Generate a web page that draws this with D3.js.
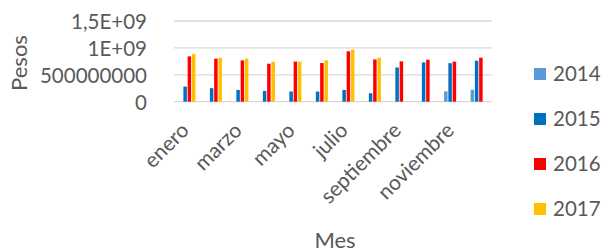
<!DOCTYPE html>
<html>
<head>
<meta charset="utf-8">
<script src="https://cdn.jsdelivr.net/npm/d3@7"></script>
<style>
  body { margin: 0; background: #fff; }
  svg text { font-family: Lato, "Open Sans", sans-serif; fill: #595959; }
</style>
</head>
<body>
<div id="chart"></div>
<script>
// months and series (pesos)
var months = ["enero", "febrero", "marzo", "abril", "mayo", "junio", "julio",
              "agosto", "septiembre", "octubre", "noviembre", "diciembre"];
var years = ["2014", "2015", "2016", "2017"];
var v2014 = [null, null, null, null, null, null, null, null, null, null, 192e6, 222e6];
var v2015 = [281e6, 251e6, 219e6, 200e6, 190e6, 188e6, 219e6, 157e6, 636e6, 731e6, 716e6, 762e6];
var v2016 = [843e6, 800e6, 768e6, 706e6, 745e6, 719e6, 937e6, 786e6, 750e6, 781e6, 745e6, 818e6];
var v2017 = [888e6, 815e6, 800e6, 743e6, 746e6, 768e6, 968e6, 818e6, null, null, null, null];
var yTicks = [0, 5e8, 1e9, 1.5e9];
var yTickLabels = ["0", "500000000", "1E+09", "1,5E+09"];
var colors = ["#5B9BD5", "#0070C0", "#FF0000", "#FFC000"];

var series = [v2014, v2015, v2016, v2017];

var width = 605, height = 252;
var plot = {left: 174, right: 492, top: 21, bottom: 101.7};

var svg = d3.select("#chart").append("svg")
  .attr("width", width)
  .attr("height", height);

svg.append("rect").attr("width", width).attr("height", height).attr("fill", "#fff");

var x0 = d3.scaleBand()
  .domain(months)
  .range([plot.left, plot.right])
  .paddingInner(0.354)
  .paddingOuter(0.177);

var x1 = d3.scaleBand()
  .domain(years)
  .range([0, x0.bandwidth()]);

var y = d3.scaleLinear()
  .domain([0, 1.5e9])
  .range([plot.bottom, plot.top]);

var color = d3.scaleOrdinal().domain(years).range(colors);

// gridlines
svg.append("g")
  .selectAll("line")
  .data(yTicks)
  .enter().append("line")
  .attr("x1", plot.left)
  .attr("x2", plot.right)
  .attr("y1", function(d) { return y(d); })
  .attr("y2", function(d) { return y(d); })
  .attr("stroke", "#d9d9d9")
  .attr("stroke-width", 1.3);

// y axis labels
var yAxis = d3.axisLeft(y)
  .tickValues(yTicks)
  .tickSize(0)
  .tickPadding(0)
  .tickFormat(function(d, i) { return yTickLabels[i]; });

var yg = svg.append("g")
  .attr("transform", "translate(147,0)")
  .call(yAxis);
yg.select(".domain").remove();
yg.selectAll("text")
  .style("font-size", "20.5px")
  .attr("fill", "#595959")
  .attr("dy", "0.36em");

// bars
var groups = svg.append("g")
  .selectAll("g")
  .data(months)
  .enter().append("g")
  .attr("transform", function(d) { return "translate(" + x0(d) + ",0)"; });

groups.selectAll("rect")
  .data(function(m, i) {
    return years.map(function(yr, k) { return {year: yr, value: series[k][i]}; })
      .filter(function(e) { return e.value != null; });
  })
  .enter().append("rect")
  .attr("x", function(d) { return x1(d.year) + 0.4; })
  .attr("width", x1.bandwidth() - 0.8)
  .attr("y", function(d) { return y(d.value); })
  .attr("height", function(d) { return plot.bottom - y(d.value); })
  .attr("fill", function(d) { return color(d.year); });

// x axis labels (every other month)
var xAxis = d3.axisBottom(x0)
  .tickValues(months.filter(function(d, i) { return i % 2 == 0; }))
  .tickSize(0)
  .tickPadding(0);

var xg = svg.append("g")
  .attr("transform", "translate(0," + plot.bottom + ")")
  .call(xAxis);
xg.select(".domain").remove();
xg.selectAll("text")
  .style("font-size", "21px")
  .attr("fill", "#595959")
  .attr("text-anchor", "end")
  .attr("dy", null)
  .attr("y", 0)
  .attr("transform", "translate(3,30) rotate(-45)");

// axis titles
svg.append("text")
  .attr("transform", "translate(27,63) rotate(-90)")
  .attr("text-anchor", "middle")
  .style("font-size", "22px")
  .text("Pesos");

svg.append("text")
  .attr("x", 335)
  .attr("y", 248)
  .attr("text-anchor", "middle")
  .style("font-size", "22px")
  .text("Mes");

// legend
var legend = svg.append("g")
  .selectAll("g")
  .data(years)
  .enter().append("g")
  .attr("transform", function(d, i) { return "translate(534," + (74 + i * 45) + ")"; });

legend.append("rect")
  .attr("x", 0)
  .attr("y", -6)
  .attr("width", 12)
  .attr("height", 12)
  .attr("fill", function(d) { return color(d); });

legend.append("text")
  .attr("x", 19)
  .attr("dy", "0.36em")
  .style("font-size", "20.5px")
  .text(function(d) { return d; });
</script>
</body>
</html>
